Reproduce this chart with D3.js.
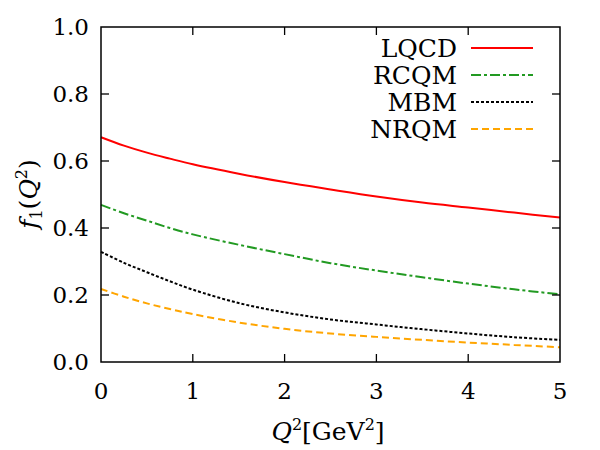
<!DOCTYPE html>
<html>
<head>
<meta charset="utf-8">
<script src="https://cdn.jsdelivr.net/npm/d3@7"></script>
<style>
  html, body { margin: 0; padding: 0; background: #fff; }
</style>
</head>
<body>
<div id="chart"></div>
<script>
// Q^2 sample points (GeV^2)
const q2 = [0, 0.25, 0.5, 0.75, 1, 1.5, 2, 2.5, 3, 3.5, 4, 4.5, 5];

// f1(Q^2)
const lqcd = [0.671, 0.646, 0.625, 0.607, 0.590, 0.562, 0.537, 0.515, 0.494, 0.476, 0.461, 0.446, 0.431];
const rcqm = [0.469, 0.444, 0.422, 0.400, 0.381, 0.350, 0.322, 0.295, 0.273, 0.253, 0.234, 0.217, 0.202];
const mbm  = [0.329, 0.296, 0.268, 0.241, 0.216, 0.176, 0.148, 0.127, 0.112, 0.098, 0.085, 0.074, 0.066];
const nrqm = [0.218, 0.195, 0.175, 0.158, 0.143, 0.118, 0.099, 0.085, 0.075, 0.066, 0.058, 0.051, 0.044];

const seriesNames = ["LQCD", "RCQM", "MBM", "NRQM"];
const xTicks = [0, 1, 2, 3, 4, 5];
const yTicks = [0, 0.2, 0.4, 0.6, 0.8, 1.0];

const width = 600, height = 450;
const margin = { left: 101, right: 40, top: 27, bottom: 88 };
const serif = "'DejaVu Serif', serif";

const svg = d3.select("#chart").append("svg")
  .attr("width", width).attr("height", height)
  .attr("font-family", serif);

const x = d3.scaleLinear().domain([0, 5]).range([margin.left, width - margin.right]);
const y = d3.scaleLinear().domain([0, 1]).range([height - margin.bottom, margin.top]);

const styles = [
  { color: "#ff0000", dash: null },
  { color: "#229a22", dash: "10,3,3,3" },
  { color: "#000000", dash: "3,2" },
  { color: "#ffa500", dash: "7,4" }
];
const allSeries = [lqcd, rcqm, mbm, nrqm];

const line = d3.line()
  .x((d, i) => x(q2[i]))
  .y(d => y(d))
  .curve(d3.curveCatmullRom.alpha(0.5));

allSeries.forEach((vals, k) => {
  svg.append("path")
    .attr("d", line(vals))
    .attr("fill", "none")
    .attr("stroke", styles[k].color)
    .attr("stroke-width", 2)
    .attr("stroke-dasharray", styles[k].dash);
});

// frame with mirrored inward ticks
const tickLen = 8;
const x0 = x(0), x1 = x(5), y0 = y(0), y1 = y(1);
const frame = svg.append("g").attr("stroke", "#000").attr("stroke-width", 1.3);
xTicks.slice(1, -1).forEach(t => {
  frame.append("line").attr("x1", x(t)).attr("x2", x(t)).attr("y1", y0).attr("y2", y0 - tickLen);
  frame.append("line").attr("x1", x(t)).attr("x2", x(t)).attr("y1", y1).attr("y2", y1 + tickLen);
});
yTicks.slice(1, -1).forEach(t => {
  frame.append("line").attr("x1", x0).attr("x2", x0 + tickLen).attr("y1", y(t)).attr("y2", y(t));
  frame.append("line").attr("x1", x1).attr("x2", x1 - tickLen).attr("y1", y(t)).attr("y2", y(t));
});
svg.append("rect")
  .attr("x", x0).attr("y", y1).attr("width", x1 - x0).attr("height", y0 - y1)
  .attr("fill", "none").attr("stroke", "#000").attr("stroke-width", 1.5);

// tick labels
const fontSize = 23;
const labelSize = 25;
xTicks.forEach(t => {
  svg.append("text").attr("x", x(t)).attr("y", y0 + 37)
    .attr("text-anchor", "middle").attr("font-size", fontSize).text(t);
});
yTicks.forEach(t => {
  svg.append("text").attr("x", x0 - 12).attr("y", y(t) + 8)
    .attr("text-anchor", "end").attr("font-size", fontSize).text(t.toFixed(1));
});

// axis titles
const xt = svg.append("text").attr("x", 328).attr("y", 440)
  .attr("text-anchor", "middle").attr("font-size", labelSize);
xt.append("tspan").attr("font-style", "italic").text("Q");
xt.append("tspan").attr("font-size", 16).attr("dy", -10).text("2");
xt.append("tspan").attr("dy", 10).text("[GeV");
xt.append("tspan").attr("font-size", 16).attr("dy", -10).text("2");
xt.append("tspan").attr("dy", 10).text("]");

const yt = svg.append("text")
  .attr("transform", "translate(37,194) rotate(-90)")
  .attr("text-anchor", "middle").attr("font-size", labelSize);
yt.append("tspan").attr("font-style", "italic").text("f");
yt.append("tspan").attr("font-size", 16).attr("dy", 5).text("1");
yt.append("tspan").attr("dy", -5).text("(");
yt.append("tspan").attr("font-style", "italic").text("Q");
yt.append("tspan").attr("font-size", 16).attr("dy", -10).text("2");
yt.append("tspan").attr("dy", 10).text(")");

// legend
const legendY = d3.scalePoint().domain(seriesNames).range([48, 129]);
seriesNames.forEach((name, k) => {
  const ly = legendY(name);
  svg.append("text").attr("x", 457).attr("y", ly + 9)
    .attr("text-anchor", "end").attr("font-size", labelSize).text(name);
  svg.append("line")
    .attr("x1", 471).attr("x2", 533).attr("y1", ly).attr("y2", ly)
    .attr("stroke", styles[k].color).attr("stroke-width", 2)
    .attr("stroke-dasharray", styles[k].dash);
});
</script>
</body>
</html>
